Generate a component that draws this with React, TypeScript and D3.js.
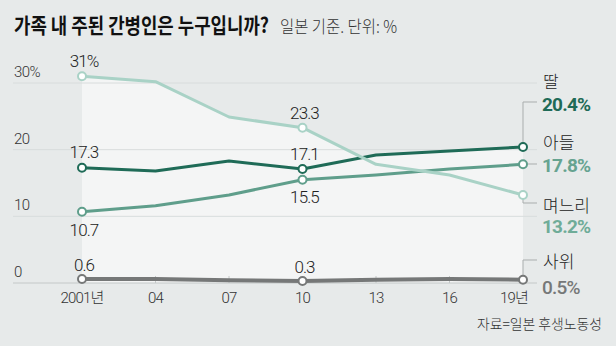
import React, { useLayoutEffect, useRef, useState } from 'react';
import * as d3 from 'd3';

const years = [2001, 2004, 2007, 2010, 2013, 2016, 2019];
const xTickLabels = ['2001년', '04', '07', '10', '13', '16', '19년'];
const daughter = [17.3, 16.8, 18.3, 17.1, 19.2, 19.8, 20.4];
const son = [10.7, 11.6, 13.2, 15.5, 16.2, 17.1, 17.8];
const daughterInLaw = [31.0, 30.2, 24.9, 23.3, 17.8, 16.2, 13.2];
const sonInLaw = [0.6, 0.6, 0.4, 0.3, 0.5, 0.6, 0.5];
const yTicks = [0, 10, 20, 30];
const yTickLabels = ['0', '10', '20', '30%'];
const seriesNames = ['딸', '아들', '며느리', '사위'];
const lastLabels = ['20.4%', '17.8%', '13.2%', '0.5%'];
const labeledIdx = [0, 3];
const valueLabels = [
  ['17.3', '17.1'],
  ['10.7', '15.5'],
  ['31%', '23.3'],
  ['0.6', '0.3'],
];
const titleText = '가족 내 주된 간병인은 누구입니까?';
const subtitleText = '일본 기준. 단위: %';
const sourceText = '자료=일본 후생노동성';

const W = 616;
const H = 346;
const NUM = "Roboto, 'Noto Sans CJK KR', sans-serif";
const KR = "'Noto Sans CJK KR', Roboto, sans-serif";

export default function App() {
  const titleRef = useRef<SVGTextElement>(null);
  const subRef = useRef<SVGTextElement>(null);
  const srcRef = useRef<SVGTextElement>(null);
  const [scales, setScales] = useState([0.8, 0.85, 0.9]);

  useLayoutEffect(() => {
    const m = (el: SVGTextElement | null, target: number, fb: number) =>
      el ? target / Math.max(1, el.getComputedTextLength()) : fb;
    setScales([
      m(titleRef.current, 255, 0.8),
      m(subRef.current, 117, 0.85),
      m(srcRef.current, 125, 0.9),
    ]);
  }, []);

  const x = d3.scaleLinear().domain([2001, 2019]).range([82, 523]);
  const y = d3.scaleLinear().domain([0, 30]).range([283, 83]);
  const series = [daughter, son, daughterInLaw, sonInLaw];
  const colors = ['#1f6b57', '#5f9e8b', '#a9d2c6', '#767878'];
  const valColors = ['#1f6b57', '#66a390', '#6fac98', '#767878'];
  const widths = [3, 3, 3, 4];
  const line = d3.line<number>().x((_, i) => x(years[i])).y((d) => y(d));
  const area = d3
    .area<number>()
    .x((_, i) => x(years[i]))
    .y0(y(0))
    .y1((d) => y(d));

  const labelOffsets = [
    [-10, -9],
    [24, 23],
    [-9, -9],
    [-8, -8],
  ];

  const nameY = [88, 149, 212, 268];
  const valY = [111, 172, 233, 294];
  const leaderY = [102, 164, 203, 260];

  return (
    <svg
      width={W}
      height={H}
      style={{ position: 'absolute', left: 0, top: 0, display: 'block' }}
    >
      <rect x={0} y={0} width={W} height={H} fill="#e7eaea" />
      {series.map((s, k) => (
        <path key={'a' + k} d={area(s) || ''} fill="#f4f5f5" />
      ))}
      {yTicks.map((t, i) => (
        <g key={'yt' + t}>
          <line
            x1={13}
            x2={537}
            y1={y(t)}
            y2={y(t)}
            stroke={t === 0 ? '#c4c8c8' : '#d8dcdc'}
            strokeWidth={1}
          />
          <text
            x={14}
            y={y(t) - 6}
            fontFamily={NUM}
            fontSize={15}
            fontWeight={300}
            fill="#333"
            letterSpacing={-0.6}
          >
            {yTickLabels[i]}
          </text>
        </g>
      ))}
      {years.map((yr, i) => (
        <g key={'xt' + yr}>
          <line x1={x(yr)} x2={x(yr)} y1={276} y2={283} stroke="#c4c8c8" />
          <text
            x={i === years.length - 1 ? x(yr) + 5 : x(yr)}
            y={303}
            textAnchor={i === years.length - 1 ? 'end' : 'middle'}
            fontFamily={NUM}
            fontSize={15}
            fontWeight={300}
            fill="#333"
            letterSpacing={-0.8}
          >
            {xTickLabels[i]}
          </text>
        </g>
      ))}
      {series.map((s, k) => {
        const px = x(years[years.length - 1]);
        const py = y(s[s.length - 1]);
        const ly = leaderY[k];
        return (
          <path
            key={'ld' + k}
            d={`M${px},${py} L${px},${ly} L${px + 14},${ly}`}
            fill="none"
            stroke="#a9adad"
            strokeWidth={1}
          />
        );
      })}
      {series.map((s, k) => (
        <path
          key={'l' + k}
          d={line(s) || ''}
          fill="none"
          stroke={colors[k]}
          strokeWidth={widths[k]}
          strokeLinejoin="round"
        />
      ))}
      {series.map((s, k) =>
        [0, 3, 6].map((i) => (
          <circle
            key={'c' + k + '-' + i}
            cx={x(years[i])}
            cy={y(s[i])}
            r={4}
            fill="#fff"
            stroke={colors[k]}
            strokeWidth={2}
          />
        ))
      )}
      {series.map((s, k) =>
        labeledIdx.map((i, j) => (
          <text
            key={'v' + k + '-' + i}
            x={x(years[i]) + 2}
            y={y(s[i]) + labelOffsets[k][j]}
            textAnchor="middle"
            fontFamily={NUM}
            fontSize={17}
            fontWeight={300}
            fill="#222"
            letterSpacing={-0.9}
          >
            {valueLabels[k][j]}
          </text>
        ))
      )}
      {series.map((s, k) => (
        <g key={'r' + k}>
          <text x={543} y={nameY[k]} fontFamily={KR} fontSize={17} fontWeight={300} fill="#222">
            {seriesNames[k]}
          </text>
          <text
            x={542}
            y={valY[k]}
            fontFamily={NUM}
            fontSize={19}
            fontWeight={k === 3 ? 500 : 700}
            fill={valColors[k]}
            letterSpacing={-0.8}
          >
            {lastLabels[k]}
          </text>
        </g>
      ))}
      <g transform={`translate(14,33) scale(${scales[0]},1)`}>
        <text ref={titleRef} x={0} y={0} fontFamily={KR} fontSize={21} fontWeight={700} fill="#111">
          {titleText}
        </text>
      </g>
      <g transform={`translate(280,33) scale(${scales[1]},1)`}>
        <text ref={subRef} x={0} y={0} fontFamily={KR} fontSize={17} fontWeight={300} fill="#333">
          {subtitleText}
        </text>
      </g>
      <g transform={`translate(602,329) scale(${scales[2]},1)`}>
        <text
          ref={srcRef}
          x={0}
          y={0}
          textAnchor="end"
          fontFamily={KR}
          fontSize={14}
          fontWeight={300}
          fill="#333"
        >
          {sourceText}
        </text>
      </g>
    </svg>
  );
}
